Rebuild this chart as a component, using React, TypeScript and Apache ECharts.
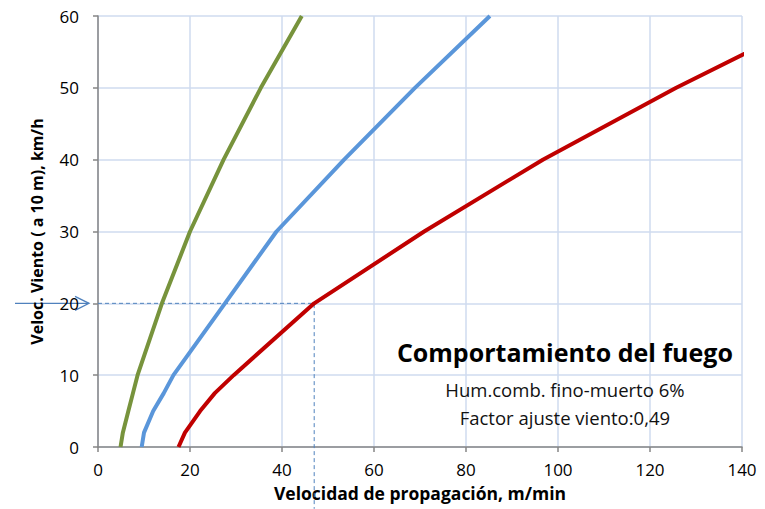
import React, { useEffect, useRef } from "react";
import * as echarts from "echarts";

const windSpeeds = [0, 2, 5, 7.5, 10, 20, 30, 40, 50, 60];
const greenSpread = [4.9, 5.4, 6.6, 7.6, 8.6, 13.9, 20.0, 27.3, 35.4, 44.3];
const blueSpread = [9.5, 10.0, 12.0, 14.3, 16.4, 27.6, 38.8, 53.5, 68.9, 85.2];
const redSpread = [17.5, 18.9, 22.2, 25.4, 29.5, 47.0, 70.9, 96.7, 125.7, 157.0];

const xTicks = [0, 20, 40, 60, 80, 100, 120, 140];
const yTicks = [0, 10, 20, 30, 40, 50, 60];

const refWind = 20;
const refSpread = 47;

const titleText = "Comportamiento del fuego";
const subText1 = "Hum.comb. fino-muerto 6%";
const subText2 = "Factor ajuste viento:0,49";
const xName = "Velocidad de propagación, m/min";
const yName = "Veloc. Viento ( a 10 m), km/h";

const pairs = (xs: number[]) => xs.map((x, i) => [x, windSpeeds[i]]);

export default function App() {
  const ref = useRef<HTMLDivElement>(null);
  useEffect(() => {
    if (!ref.current) return;
    const chart = echarts.init(ref.current, undefined, { renderer: "svg" });
    const font = "'Open Sans', 'Liberation Sans', sans-serif";
    const lineSeries = (data: number[][], color: string) => ({
      type: "line",
      data,
      symbol: "none",
      lineStyle: { color, width: 4 },
      clip: true,
      z: 3,
    });
    chart.setOption({
      animation: false,
      textStyle: { fontFamily: font },
      grid: { left: 98, right: 23, top: 16, bottom: 62 },
      xAxis: {
        type: "value",
        min: xTicks[0],
        max: xTicks[xTicks.length - 1],
        interval: 20,
        name: xName,
        nameLocation: "middle",
        nameGap: 37,
        nameTextStyle: { fontWeight: "bold", fontSize: 17.5, color: "#000", fontFamily: font },
        axisLine: { lineStyle: { color: "#868686", width: 1.5 } },
        axisTick: { show: true, length: 5, lineStyle: { color: "#868686", width: 1.5 } },
        axisLabel: { fontSize: 17, color: "#000", margin: 14, fontFamily: font },
        splitLine: { show: true, lineStyle: { color: "#CFDBEF", width: 1.5 } },
      },
      yAxis: {
        type: "value",
        min: yTicks[0],
        max: yTicks[yTicks.length - 1],
        interval: 10,
        name: yName,
        nameLocation: "middle",
        nameGap: 53,
        nameTextStyle: { fontWeight: "bold", fontSize: 16, color: "#000", fontFamily: font },
        axisLine: { show: true, lineStyle: { color: "#868686", width: 1.5 } },
        axisTick: { show: true, length: 5, lineStyle: { color: "#868686", width: 1.5 } },
        axisLabel: { fontSize: 17, color: "#000", margin: 19, fontFamily: font },
        splitLine: { show: true, lineStyle: { color: "#CFDBEF", width: 1.5 } },
      },
      series: [
        lineSeries(pairs(greenSpread), "#77933C"),
        lineSeries(pairs(blueSpread), "#5A96DA"),
        lineSeries(pairs(redSpread), "#C00000"),
        {
          type: "line",
          data: [[0, refWind], [refSpread, refWind], [refSpread, -8.6]],
          symbol: "none",
          clip: false,
          lineStyle: { color: "#4F81BD", width: 1, type: [4, 3] },
          z: 2,
        },
      ],
    });
    const p0 = chart.convertToPixel({ gridIndex: 0 }, [0, refWind]) as number[];
    const ax = p0[0] - 9;
    const ay = p0[1];
    const cx = chart.convertToPixel({ gridIndex: 0 }, [101.5, 0]) as number[];
    chart.setOption({
      graphic: [
        {
          type: "line",
          shape: { x1: 15, y1: ay, x2: ax, y2: ay },
          style: { stroke: "#4F81BD", lineWidth: 1.3 },
        },
        {
          type: "polyline",
          shape: { points: [[ax - 14, ay - 7], [ax, ay], [ax - 14, ay + 7]] },
          style: { stroke: "#4F81BD", lineWidth: 1.3, fill: "none" },
        },
        {
          type: "text",
          x: cx[0],
          y: 352,
          style: {
            text: titleText,
            font: `bold 25px ${font}`,
            fill: "#000",
            align: "center",
            verticalAlign: "middle",
          },
        },
        {
          type: "text",
          x: cx[0],
          y: 389,
          style: {
            text: subText1,
            font: `18.5px ${font}`,
            fill: "#111",
            align: "center",
            verticalAlign: "middle",
          },
        },
        {
          type: "text",
          x: cx[0],
          y: 417,
          style: {
            text: subText2,
            font: `18.5px ${font}`,
            fill: "#111",
            align: "center",
            verticalAlign: "middle",
          },
        },
      ],
    });
    return () => chart.dispose();
  }, []);
  return <div ref={ref} style={{ width: 765, height: 509, position: "absolute", left: 0, top: 0 }} />;
}
